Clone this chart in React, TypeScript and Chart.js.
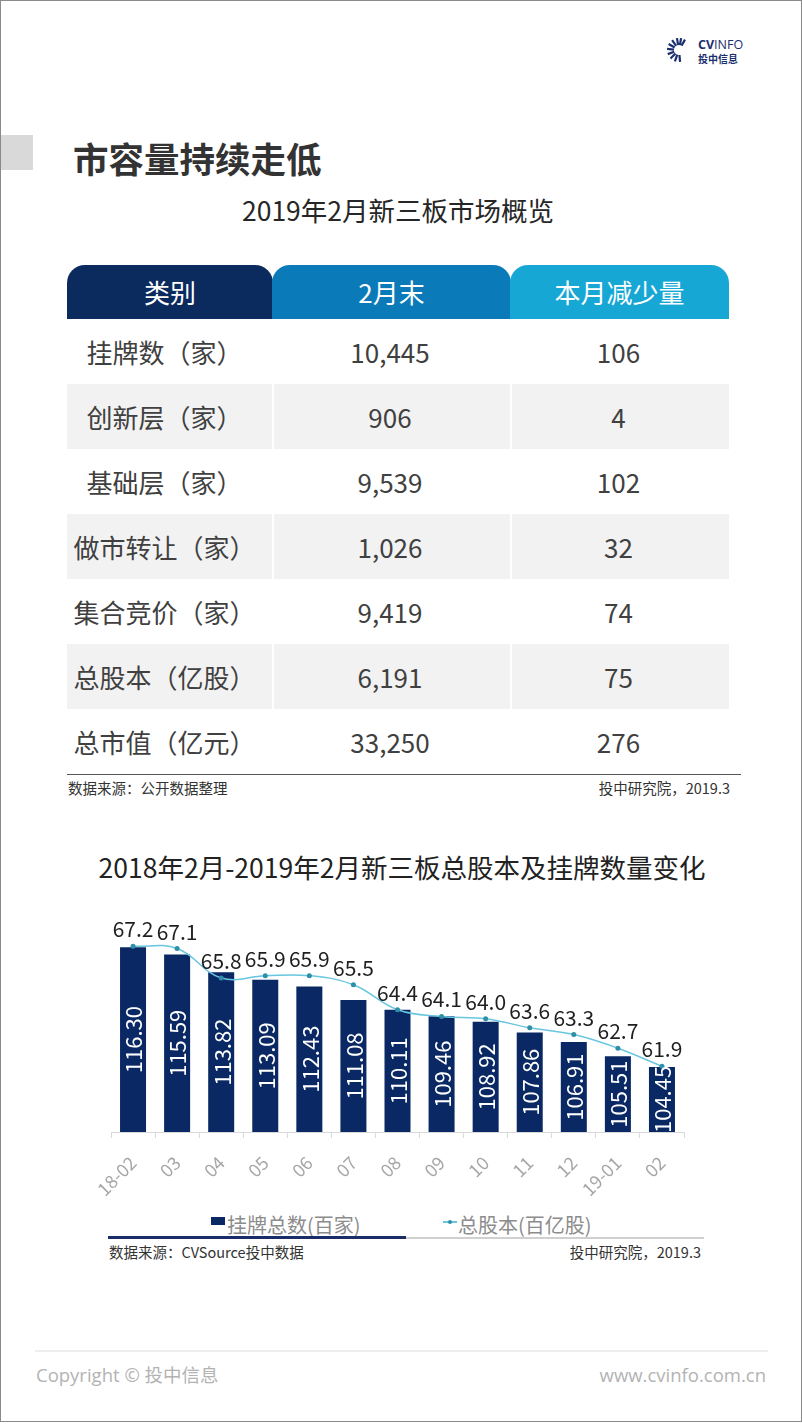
import React, { useEffect, useRef } from "react";
import { Chart, registerables } from "chart.js";

Chart.register(...registerables);

// ---------- Data ----------
const categories = ["18-02", "03", "04", "05", "06", "07", "08", "09", "10", "11", "12", "19-01", "02"];
const listedCounts = [116.3, 115.59, 113.82, 113.09, 112.43, 111.08, 110.11, 109.46, 108.92, 107.86, 106.91, 105.51, 104.45];
const totalShares = [67.2, 67.1, 65.8, 65.9, 65.9, 65.5, 64.4, 64.1, 64.0, 63.6, 63.3, 62.7, 61.9];
const seriesNames = ["挂牌总数(百家)", "总股本(百亿股)"];

const tableHeaders = ["类别", "2月末", "本月减少量"];
const rowLabels = ["挂牌数（家）", "创新层（家）", "基础层（家）", "做市转让（家）", "集合竞价（家）", "总股本（亿股）", "总市值（亿元）"];
const febEnd = ["10,445", "906", "9,539", "1,026", "9,419", "6,191", "33,250"];
const monthlyDecrease = ["106", "4", "102", "32", "74", "75", "276"];

const FONT = '"Noto Sans CJK SC", "Noto Sans", sans-serif';
const NAVY = "#0a2863";
const LINE_COLOR = "#68c6df";
const POINT_COLOR = "#2f8fa8";

const labelPlugin = {
  id: "valueLabels",
  afterDatasetsDraw(chart: any) {
    const ctx = chart.ctx;
    const bottom = chart.chartArea.bottom;
    ctx.save();
    // bar labels
    const barMeta = chart.getDatasetMeta(1);
    const barData = chart.data.datasets[1].data as number[];
    for (let i = 0; i < barMeta.data.length; i++) {
      const el: any = barMeta.data[i];
      const v = barData[i];
      const cx = el.x;
      const cy = (el.y + bottom) / 2;
      ctx.save();
      ctx.translate(cx, cy);
      ctx.rotate(-Math.PI / 2);
      ctx.fillStyle = "#ffffff";
      ctx.font = `22px ${FONT}`;
      ctx.textAlign = "center";
      ctx.textBaseline = "middle";
      ctx.fillText(v.toFixed(2), 0, 1);
      ctx.restore();
    }
    // line labels
    const lineMeta = chart.getDatasetMeta(0);
    const lineData = chart.data.datasets[0].data as number[];
    for (let i = 0; i < lineMeta.data.length; i++) {
      const el: any = lineMeta.data[i];
      ctx.fillStyle = "#1f1f1f";
      ctx.font = `21px ${FONT}`;
      ctx.textAlign = "center";
      ctx.textBaseline = "alphabetic";
      ctx.fillText(lineData[i].toFixed(1), el.x, el.y - 9);
    }
    ctx.restore();
  },
};

function ComboChart() {
  const ref = useRef<HTMLCanvasElement>(null);
  useEffect(() => {
    if (!ref.current) return;
    const chart = new Chart(ref.current, {
      type: "bar",
      data: {
        labels: categories,
        datasets: [
          {
            type: "line",
            label: seriesNames[1],
            data: totalShares,
            yAxisID: "y2",
            borderColor: LINE_COLOR,
            borderWidth: 1.5,
            tension: 0.4,
            pointRadius: 2.5,
            pointBackgroundColor: POINT_COLOR,
            pointBorderWidth: 0,
            order: 0,
          } as any,
          {
            type: "bar",
            label: seriesNames[0],
            data: listedCounts,
            yAxisID: "y",
            backgroundColor: NAVY,
            barPercentage: 0.59,
            categoryPercentage: 1,
            order: 1,
          },
        ],
      },
      options: {
        animation: false,
        responsive: false,
        maintainAspectRatio: false,
        layout: { padding: { left: 110, right: 119, top: 29, bottom: 0 } },
        plugins: { legend: { display: false }, tooltip: { enabled: false } },
        scales: {
          x: {
            grid: { offset: true, drawOnChartArea: false, drawTicks: true, tickLength: 6, color: "#d9d9d9" },
            border: { display: true, color: "#d9d9d9", width: 1 },
            ticks: {
              color: "#a6a6a6",
              font: { family: FONT, size: 18 },
              maxRotation: 45,
              minRotation: 45,
              padding: 14,
            },
            afterFit: (scale: any) => {
              scale.height = 70;
            },
          },
          y: { display: false, min: 98, max: 120 },
          y2: { display: false, min: 59, max: 68.8, position: "right" },
        },
      },
      plugins: [labelPlugin],
    });
    return () => chart.destroy();
  }, []);
  return (
    <canvas
      ref={ref}
      width={802}
      height={321}
      style={{ position: "absolute", left: 0, top: 880, width: 802, height: 321 }}
    />
  );
}

function Logo() {
  const rays = [];
  const angles = [100, 125, 150, 175, 200, 225, 250, 275, 60, 80];
  for (let i = 0; i < angles.length; i++) {
    const a = (angles[i] * Math.PI) / 180;
    const r1 = 5, r2 = 12;
    rays.push(
      <line
        key={i}
        x1={12 + r1 * Math.cos(a)}
        y1={12 - r1 * Math.sin(a)}
        x2={12 + r2 * Math.cos(a)}
        y2={12 - r2 * Math.sin(a)}
        stroke="#1b2f6e"
        strokeWidth={2.2}
      />
    );
  }
  return (
    <div style={{ position: "absolute", left: 666, top: 37, width: 90, height: 28 }}>
      <svg width={26} height={26} style={{ position: "absolute", left: 0, top: 0 }}>
        {rays}
      </svg>
      <div style={{ position: "absolute", left: 31, top: 0, fontFamily: '"Open Sans", sans-serif', fontSize: 12.5, color: "#1b2f6e", lineHeight: "14px" }}>
        <span style={{ fontWeight: 700 }}>CV</span>
        <span style={{ fontWeight: 400 }}>INFO</span>
      </div>
      <div style={{ position: "absolute", left: 31, top: 15, fontFamily: FONT, fontSize: 10, fontWeight: 700, color: "#1b2f6e", lineHeight: "11px" }}>
        投中信息
      </div>
    </div>
  );
}

export default function App() {
  const colLeft = [66, 271, 509];
  const colWidth = [205, 238, 219];
  const colPadRight = [10, 4, 4];
  const headerColors = ["#0b2a5e", "#0a7ab8", "#17a7d5"];
  const rowTop = 318;
  const rowH = 65;
  return (
    <div
      style={{
        position: "relative",
        width: 802,
        height: 1422,
        boxSizing: "border-box",
        border: "1px solid #8a8a8a",
        background: "#fff",
        fontFamily: FONT,
        overflow: "hidden",
      }}
    >
      <style>{`body{margin:0;background:#fff;}`}</style>
      <Logo />
      <div style={{ position: "absolute", left: -1, top: 134, width: 33, height: 35, background: "#d9d9d9" }} />
      <div style={{ position: "absolute", left: 72, top: 135, fontSize: 35.5, fontWeight: 700, color: "#333", lineHeight: "44px" }}>
        市容量持续走低
      </div>
      <div style={{ position: "absolute", left: 0, width: 794, top: 192, textAlign: "center", fontSize: 26.5, color: "#262626", lineHeight: "34px" }}>
        2019年2月新三板市场概览
      </div>

      {/* table header */}
      {tableHeaders.map((h, i) => (
        <div
          key={h}
          style={{
            position: "absolute",
            left: colLeft[i],
            top: 264,
            width: colWidth[i] + (i < 2 ? 1 : 0),
            height: 54,
            background: headerColors[i],
            borderTopLeftRadius: 18,
            borderTopRightRadius: 18,
            color: "#fff",
            fontSize: 26,
            textAlign: "center",
            lineHeight: "54px",
          }}
        >
          {h}
        </div>
      ))}
      {/* table body */}
      {rowLabels.map((lab, r) => {
        const cells = [lab, febEnd[r], monthlyDecrease[r]];
        const bg = r % 2 === 1 ? "#f2f2f2" : "#ffffff";
        return cells.map((c, i) => (
          <div
            key={`${r}-${i}`}
            style={{
              position: "absolute",
              left: colLeft[i],
              top: rowTop + r * rowH,
              width: colWidth[i],
              height: rowH,
              boxSizing: "border-box",
              borderLeft: i > 0 ? "2px solid #fff" : "none",
              paddingRight: colPadRight[i],
              background: bg,
              color: "#404040",
              fontSize: 26,
              textAlign: "center",
              lineHeight: `${rowH}px`,
            }}
          >
            {c}
          </div>
        ));
      })}
      <div style={{ position: "absolute", left: 66, top: 773, width: 674, height: 1, background: "#555" }} />
      <div style={{ position: "absolute", left: 67, top: 777, fontSize: 14.5, color: "#333", lineHeight: "20px" }}>
        数据来源：公开数据整理
      </div>
      <div style={{ position: "absolute", right: 802 - 731, top: 777, fontSize: 14.5, color: "#333", lineHeight: "20px" }}>
        投中研究院，2019.3
      </div>

      {/* chart title */}
      <div style={{ position: "absolute", left: 0, width: 802, top: 849, textAlign: "center", fontSize: 26.5, color: "#222", lineHeight: "34px" }}>
        2018年2月-2019年2月新三板总股本及挂牌数量变化
      </div>
      <ComboChart />

      {/* legend */}
      <div style={{ position: "absolute", left: 210, top: 1216, width: 14, height: 8, background: NAVY }} />
      <div style={{ position: "absolute", left: 226, top: 1210, fontSize: 20, color: "#8c8c8c", lineHeight: "28px" }}>
        {seriesNames[0]}
      </div>
      <div style={{ position: "absolute", left: 442, top: 1220, width: 14, height: 1.5, background: LINE_COLOR }} />
      <div style={{ position: "absolute", left: 447, top: 1219, width: 4, height: 4, borderRadius: 2, background: POINT_COLOR }} />
      <div style={{ position: "absolute", left: 457, top: 1210, fontSize: 20, color: "#8c8c8c", lineHeight: "28px" }}>
        {seriesNames[1]}
      </div>
      <div style={{ position: "absolute", left: 405, top: 1236, width: 298, height: 2, background: "#d0d0d0" }} />
      <div style={{ position: "absolute", left: 107, top: 1235, width: 298, height: 3, background: "#1a2d68" }} />
      <div style={{ position: "absolute", left: 108, top: 1241, fontSize: 14.5, color: "#333", lineHeight: "20px" }}>
        数据来源：CVSource投中数据
      </div>
      <div style={{ position: "absolute", right: 802 - 702, top: 1241, fontSize: 14.5, color: "#333", lineHeight: "20px" }}>
        投中研究院，2019.3
      </div>

      {/* footer */}
      <div style={{ position: "absolute", left: 34, top: 1349, width: 733, height: 2, background: "#eeeeee" }} />
      <div style={{ position: "absolute", left: 35, top: 1362, fontSize: 18.5, color: "#b3b3b3", lineHeight: "24px", fontFamily: '"Open Sans", "Noto Sans CJK SC", sans-serif' }}>
        Copyright © 投中信息
      </div>
      <div style={{ position: "absolute", right: 802 - 767, top: 1362, fontSize: 18.5, color: "#b3b3b3", lineHeight: "24px", fontFamily: '"Open Sans", sans-serif' }}>
        www.cvinfo.com.cn
      </div>
    </div>
  );
}
